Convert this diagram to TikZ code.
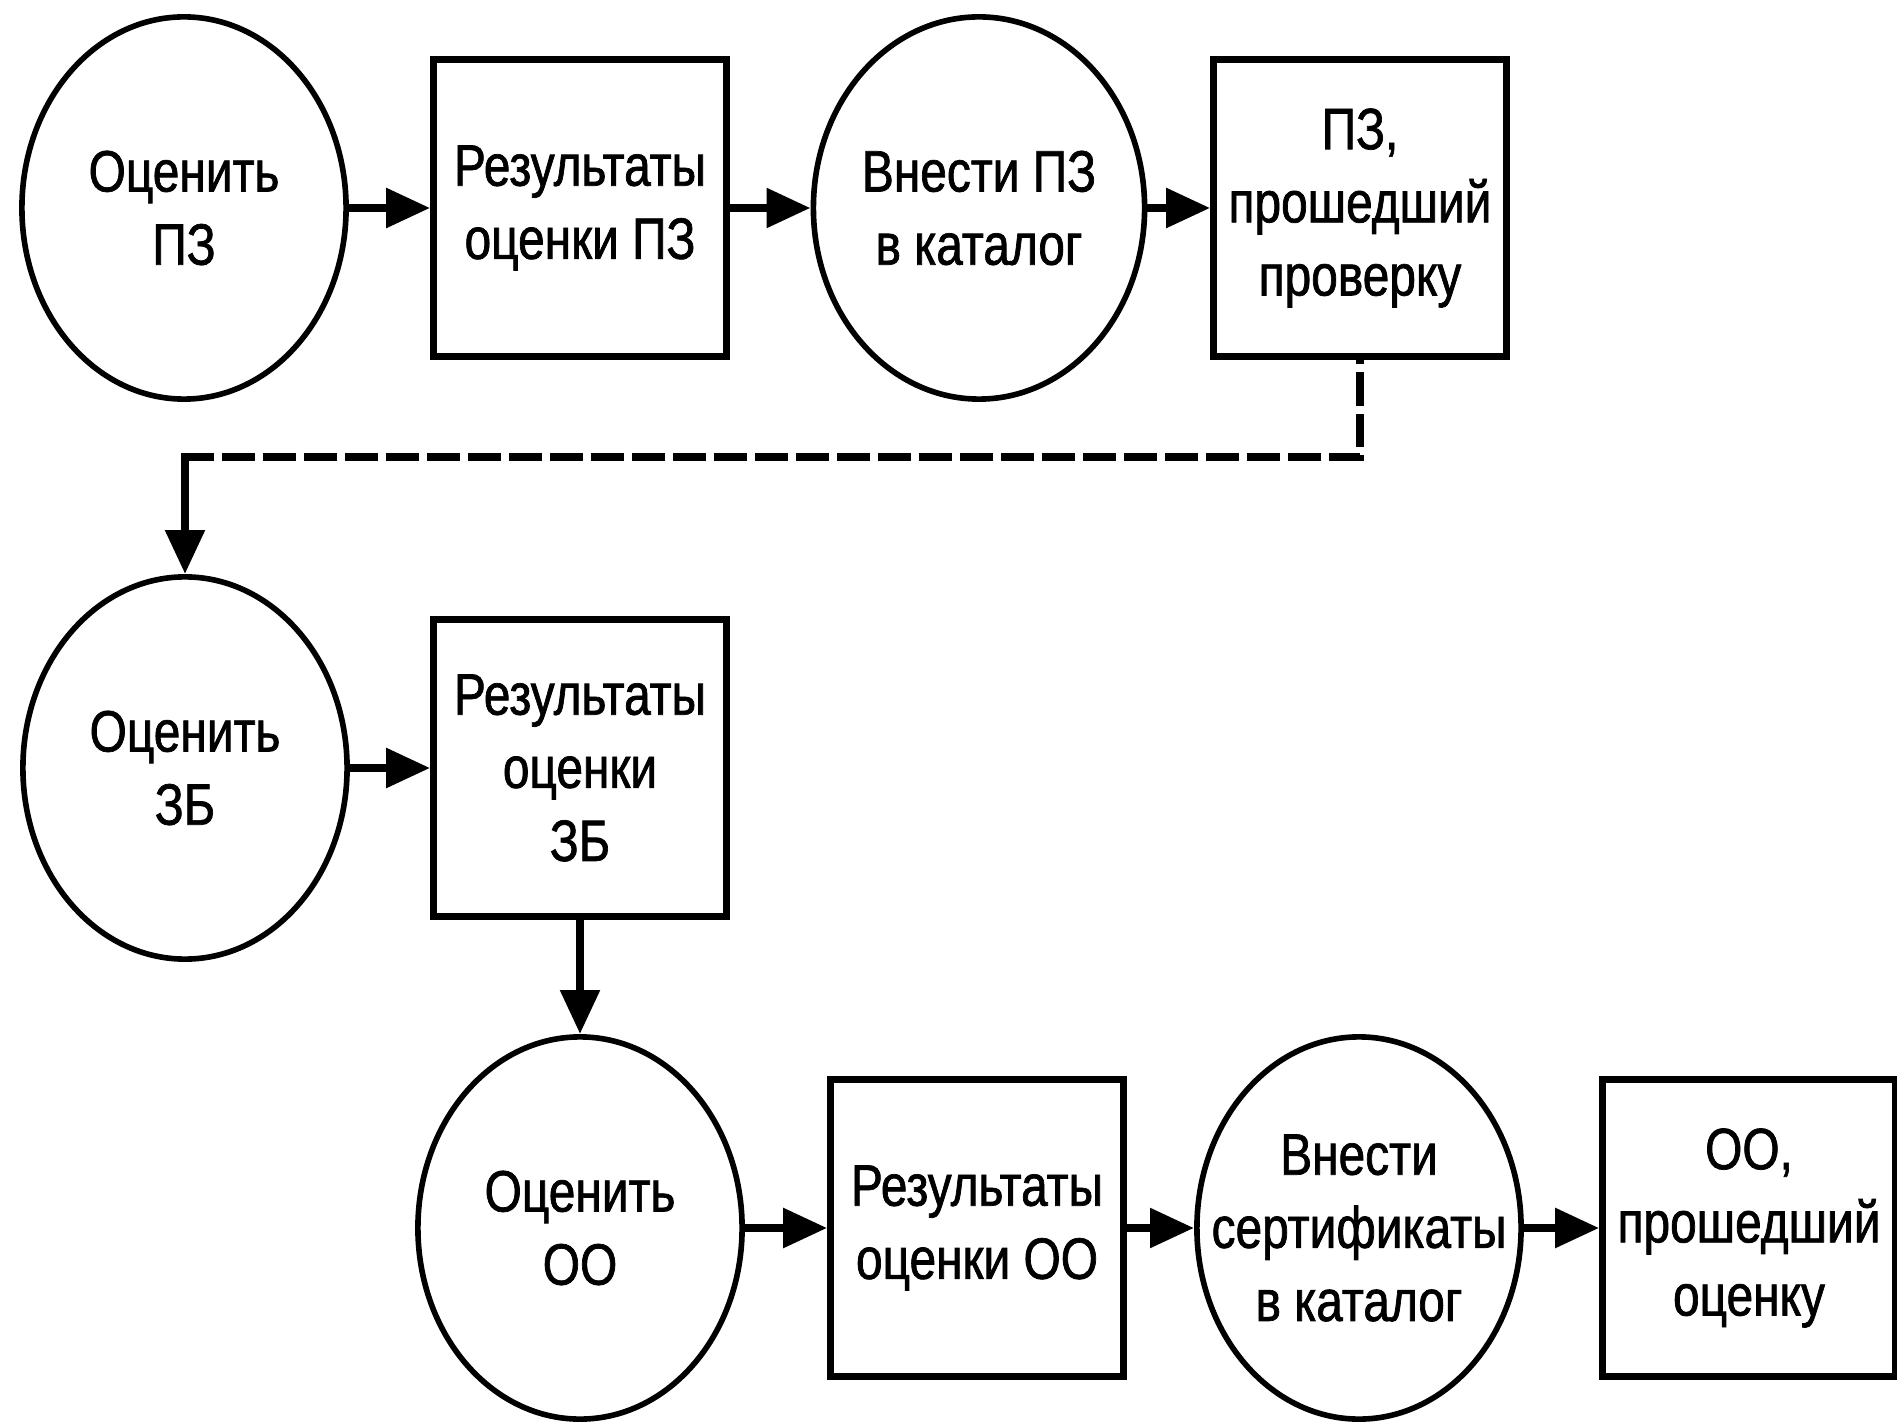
\documentclass[tikz,border=0pt]{standalone}
\usepackage{fontspec}
\setmainfont{Liberation Sans}[FakeStretch=0.82,UprightFeatures={FakeBold=1.2}]
\usetikzlibrary{shapes.geometric,arrows.meta}
\tikzset{
  proc/.style={ellipse,draw,line width=1.6pt,minimum width=3.24cm,minimum height=3.82cm,inner sep=0pt,align=center,font=\fontsize{16.6}{20.8}\selectfont},
  res/.style={rectangle,draw,line width=1.8pt,minimum width=2.93cm,minimum height=2.97cm,inner sep=0pt,align=center,font=\fontsize{16.6}{20.8}\selectfont},
  flow/.style={line width=2.4pt,-{Triangle[length=4.4mm,width=3.8mm]}},
  flowdash/.style={line width=2.4pt,dash pattern=on 3.3mm off 0.8mm}
}
\begin{document}
\begin{tikzpicture}[x=0.01cm,y=-0.01cm]
\useasboundingbox[fill=white] (0,0) rectangle (1897,1422);
\node[proc] (c1) at (184,208) {Оценить\\ПЗ};
\node[res]  (b1) at (580,208) {Результаты\\оценки ПЗ};
\node[proc] (c2) at (979,208) {Внести ПЗ\\в каталог};
\node[res]  (b2) at (1360,208) {ПЗ,\\прошедший\\проверку};
\node[proc] (c3) at (185,768) {Оценить\\ЗБ};
\node[res]  (b3) at (580,768) {Результаты\\оценки\\ЗБ};
\node[proc] (c4) at (580,1228) {Оценить\\ОО};
\node[res]  (b4) at (977,1228) {Результаты\\оценки ОО};
\node[proc,inner xsep=-0.4cm] (c5) at (1359,1228) {Внести\\сертификаты\\в каталог};
\node[res]  (b5) at (1749,1228) {ОО,\\прошедший\\оценку};
\coordinate (k) at (185,457);
\draw[flow] (c1.east) -- (b1.west);
\draw[flow] (b1.east) -- (c2.west);
\draw[flow] (c2.east) -- (b2.west);
\draw[flowdash] ([xshift=-1.2pt]k) -| (b2.south);
\draw[flow] ([yshift=1.2pt]k) -- (c3.north);
\draw[flow] (c3.east) -- (b3.west);
\draw[flow] (b3.south) -- (c4.north);
\draw[flow] (c4.east) -- (b4.west);
\draw[flow] (b4.east) -- (c5.west);
\draw[flow] (c5.east) -- (b5.west);
\end{tikzpicture}
\end{document}
